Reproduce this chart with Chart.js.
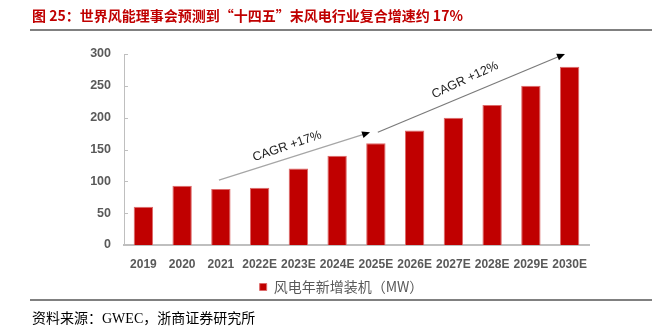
<!DOCTYPE html>
<html>
<head>
<meta charset="utf-8">
<script src="https://cdn.jsdelivr.net/npm/chart.js@4.4.1/dist/chart.umd.min.js"></script>
<style>
  html, body { margin: 0; padding: 0; background: #fff; }
  #wrap { position: relative; width: 652px; height: 329px; overflow: hidden; }
  #chart { position: absolute; left: 0; top: 0; }
  .title { position: absolute; left: 32px; top: 5px; font: bold 14px "Noto Sans CJK SC", sans-serif; color: #c00000; white-space: nowrap; }
  .rule { position: absolute; left: 30px; right: 0; height: 2px; background: #808080; }
  .source { position: absolute; left: 32px; top: 307px; font: 14px "Liberation Serif", "Noto Sans CJK SC", serif; color: #000; white-space: nowrap; }
</style>
</head>
<body>
<div id="wrap">
  <canvas id="chart" width="652" height="329"></canvas>
  <div class="title">图 25：世界风能理事会预测到“十四五”末风电行业复合增速约 17%</div>
  <div class="rule" style="top:29px"></div>
  <div class="rule" style="top:299px"></div>
  <div class="source">资料来源：GWEC，浙商证券研究所</div>
</div>
<script>
// categories and values
const years = ['2019', '2020', '2021', '2022E', '2023E', '2024E', '2025E', '2026E', '2027E', '2028E', '2029E', '2030E'];
const newInstalls = [60, 93, 88, 90, 120, 140, 160, 180, 200, 220, 250, 280];
const seriesName = '风电年新增装机（MW）';
const yTicks = [0, 50, 100, 150, 200, 250, 300];

// CAGR arrows, in category index / value units
const cagrLabels = ['CAGR +17%', 'CAGR +12%'];
const arrowFrom = [[1.95, 102], [6.05, 177]];
const arrowTo = [[5.85, 177], [10.88, 300]];
const labelAt = [[3.71, 155], [8.3, 259]];
const labelAngle = [-19, -25];
const lineColors = ['#a6a6a6', '#7a7a7a'];

const gray = '#595959';

// small tick marks drawn inside the y axis, and the CAGR arrows
const extrasPlugin = {
  id: 'extras',
  afterLayout(chart) {
    // legend sits a bit left of the plot centre in the original
    chart.legend.left = 94;
  },
  afterDraw(chart) {
    const ctx = chart.ctx;
    const x = chart.scales.x;
    const y = chart.scales.y;

    ctx.save();
    ctx.strokeStyle = '#bfbfbf';
    ctx.lineWidth = 1;
    yTicks.forEach(v => {
      const py = Math.round(y.getPixelForValue(v)) + 0.5;
      ctx.beginPath();
      ctx.moveTo(x.left, py);
      ctx.lineTo(x.left + 4, py);
      ctx.stroke();
    });

    cagrLabels.forEach((label, i) => {
      const x1 = x.getPixelForValue(arrowFrom[i][0]);
      const y1 = y.getPixelForValue(arrowFrom[i][1]);
      const x2 = x.getPixelForValue(arrowTo[i][0]);
      const y2 = y.getPixelForValue(arrowTo[i][1]);
      const a = Math.atan2(y2 - y1, x2 - x1);

      ctx.strokeStyle = lineColors[i];
      ctx.lineWidth = 1.2;
      ctx.beginPath();
      ctx.moveTo(x1, y1);
      ctx.lineTo(x2 - 6 * Math.cos(a), y2 - 6 * Math.sin(a));
      ctx.stroke();

      // arrow head
      ctx.fillStyle = '#000';
      ctx.beginPath();
      ctx.moveTo(x2, y2);
      ctx.lineTo(x2 - 8 * Math.cos(a) + 3.5 * Math.sin(a), y2 - 8 * Math.sin(a) - 3.5 * Math.cos(a));
      ctx.lineTo(x2 - 8 * Math.cos(a) - 3.5 * Math.sin(a), y2 - 8 * Math.sin(a) + 3.5 * Math.cos(a));
      ctx.closePath();
      ctx.fill();

      // label
      ctx.save();
      ctx.translate(x.getPixelForValue(labelAt[i][0]), y.getPixelForValue(labelAt[i][1]));
      ctx.rotate(labelAngle[i] * Math.PI / 180);
      ctx.fillStyle = '#222';
      ctx.font = '12.5px "Liberation Sans", sans-serif';
      ctx.textAlign = 'center';
      ctx.textBaseline = 'middle';
      ctx.fillText(label, 0, 0);
      ctx.restore();
    });
    ctx.restore();
  }
};

new Chart(document.getElementById('chart'), {
  type: 'bar',
  data: {
    labels: years,
    datasets: [
      {
        label: seriesName,
        data: newInstalls,
        backgroundColor: '#c00000',
        borderColor: '#dd6a6a',
        borderWidth: 1,
        barPercentage: 0.5,
        categoryPercentage: 1
      }
    ]
  },
  options: {
    responsive: false,
    animation: false,
    layout: { padding: { left: 0, right: 63, top: 54, bottom: 25 } },
    scales: {
      x: {
        grid: { display: false, drawTicks: false },
        border: { color: '#bfbfbf', width: 2 },
        ticks: { color: gray, font: { family: 'Liberation Sans', size: 12, weight: 'bold' }, padding: 12, maxRotation: 0, autoSkip: false },
        afterFit: (scale) => { scale.height = 30; }
      },
      y: {
        min: 0,
        max: 300,
        grid: { display: false, drawTicks: false },
        border: { color: '#bfbfbf', width: 1 },
        ticks: { stepSize: 50, color: gray, font: { family: 'Liberation Sans', size: 12.5, weight: 'bold' }, padding: 13 },
        afterFit: (scale) => { scale.width = 124; }
      }
    },
    plugins: {
      legend: {
        position: 'bottom',
        labels: {
          boxWidth: 7,
          boxHeight: 7,
          color: gray,
          padding: 5,
          font: { family: 'Noto Sans CJK SC', size: 14 }
        }
      },
      tooltip: { enabled: false }
    }
  },
  plugins: [extrasPlugin]
});
</script>
</body>
</html>
